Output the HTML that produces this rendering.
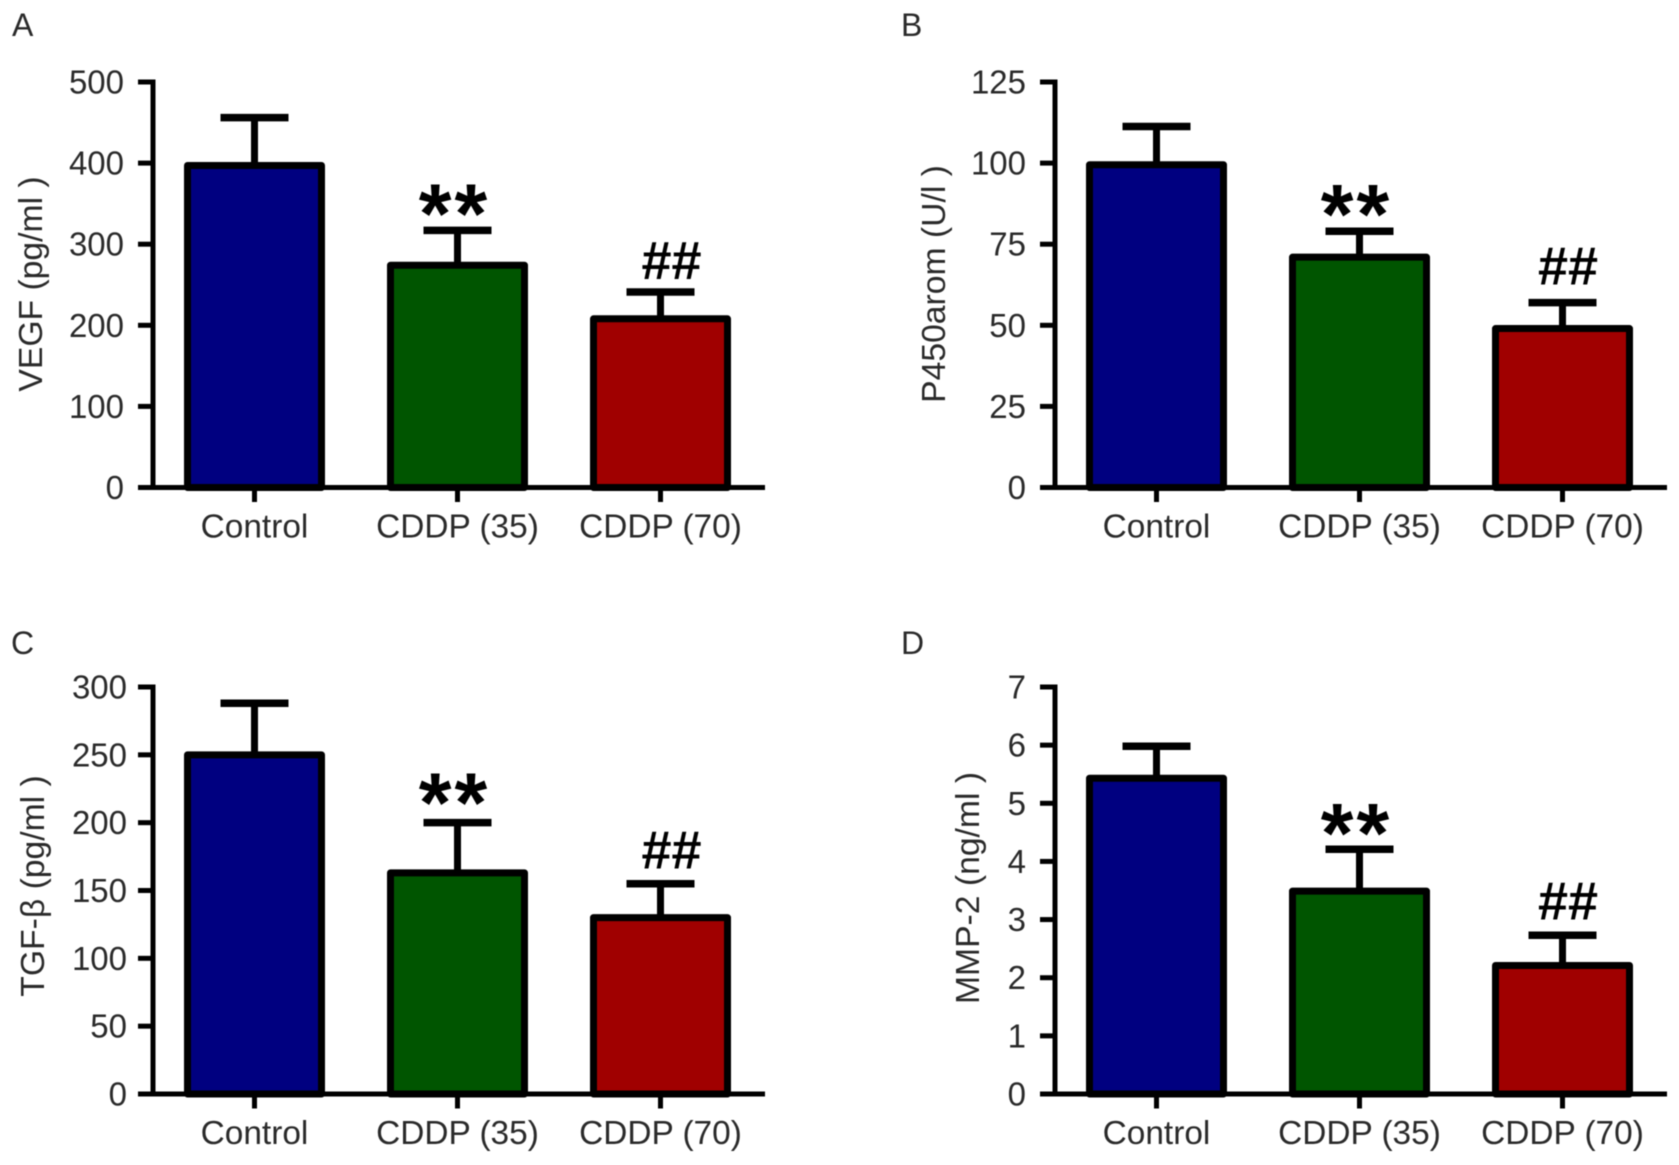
<!DOCTYPE html>
<html lang="en">
<head>
<meta charset="utf-8">
<title>Bar charts of VEGF, P450arom, TGF-β and MMP-2</title>
<style>
  html, body { margin: 0; padding: 0; background: #fff; }
  svg { display: block; filter: blur(0.5px); }
  text { font-family: "Liberation Sans", sans-serif; fill: #2a2a2a; }
</style>
</head>
<body>
<svg id="figure" xmlns="http://www.w3.org/2000/svg" width="1679" height="1165" viewBox="0 0 1679 1165"></svg>
<script>
const categories = ['Control', 'CDDP (35)', 'CDDP (70)'];
const barColors = ['#000080', '#005500', '#a00000'];
const sigMarks = ['', '**', '##'];

const vegfMeans = [397, 274, 208];
const vegfErrors = [59, 43, 33];
const vegfTicks = [0, 100, 200, 300, 400, 500];

const p450Means = [99.5, 71, 49];
const p450Errors = [11.8, 8, 8];
const p450Ticks = [0, 25, 50, 75, 100, 125];

const tgfMeans = [250, 163, 130];
const tgfErrors = [38, 37, 25];
const tgfTicks = [0, 50, 100, 150, 200, 250, 300];

const mmpMeans = [5.43, 3.49, 2.21];
const mmpErrors = [0.55, 0.72, 0.52];
const mmpTicks = [0, 1, 2, 3, 4, 5, 6, 7];

const SVG_NS = 'http://www.w3.org/2000/svg';
const svg = document.getElementById('figure');

function make(parent, tag, attrs, text) {
  const el = document.createElementNS(SVG_NS, tag);
  for (const k in attrs) el.setAttribute(k, attrs[k]);
  if (text !== undefined) el.textContent = text;
  parent.appendChild(el);
  return el;
}

function drawPanel(p) {
  const group = make(svg, 'g', {});
  
  

  const maxTick = p.ticks[p.ticks.length - 1];
  const y = v => p.bottom - (v / maxTick) * (p.bottom - p.top);
  const x = i => p.axisX + 101.5 + 203 * i;

  const letter = make(group, 'text', { x: p.letterX, y: p.letterY, 'font-size': 32 }, p.letter);
  
  

  const title = make(group, 'text', {
    transform: 'translate(' + p.titleX + ',' + p.titleY + ') rotate(-90)',
    'text-anchor': 'middle', 'font-size': 33.7
  }, p.title);
  
  

  // bars and error bars first, axes on top
  categories.forEach((cat, i) => {
    const cx = x(i);
    const topY = y(p.means[i]);
    const errY = y(p.means[i] + p.errors[i]);

    const stem = make(group, 'line', { x1: cx, x2: cx, y1: topY, y2: errY, stroke: '#000', 'stroke-width': 7 });
    
    

    const cap = make(group, 'line', { x1: cx - 34, x2: cx + 34, y1: errY, y2: errY, stroke: '#000', 'stroke-width': 7.5 });
    
    

    const bar = make(group, 'rect', {
      x: cx - 67, y: topY, width: 134, height: p.bottom - topY,
      fill: barColors[i], stroke: '#000', 'stroke-width': 7, 'stroke-linejoin': 'round'
    });
    
    

    if (sigMarks[i] === '**') {
      const stars = make(group, 'text', {
        x: cx - 3, y: errY + p.starDy, 'text-anchor': 'middle', 'font-size': 84, 'font-weight': 'bold',
        'letter-spacing': 3, style: 'fill:#000'
      }, sigMarks[i]);
      
      
    } else if (sigMarks[i] === '##') {
      const hashes = make(group, 'text', {
        x: cx + p.hashDx, y: errY + p.hashDy, 'text-anchor': 'middle', 'font-size': 54, 'font-weight': 'bold', style: 'fill:#000'
      }, sigMarks[i]);
      
      
    }

    const xTick = make(group, 'line', { x1: cx, x2: cx, y1: p.bottom, y2: p.bottom + 14.5, stroke: '#000', 'stroke-width': 5 });
    
    

    const xLabel = make(group, 'text', { x: cx, y: p.bottom + 50, 'text-anchor': 'middle', 'font-size': 33.4 }, cat);
    
    
  });

  const yAxis = make(group, 'line', { x1: p.axisX, x2: p.axisX, y1: p.top - 2.5, y2: p.bottom + 2.5, stroke: '#000', 'stroke-width': 5 });
  
  

  const xAxis = make(group, 'line', { x1: p.axisX, x2: p.axisX + 612, y1: p.bottom, y2: p.bottom, stroke: '#000', 'stroke-width': 5 });
  
  

  p.ticks.forEach(t => {
    const ty = y(t);
    const tick = make(group, 'line', { x1: p.axisX - 15, x2: p.axisX, y1: ty, y2: ty, stroke: '#000', 'stroke-width': 5 });
    
    

    const label = make(group, 'text', { x: p.axisX - p.labelGap, y: ty + 11.5, 'text-anchor': 'end', 'font-size': 33 }, String(t));
    
    
  });
}

drawPanel({ letter: 'A', letterX: 12, letterY: 36, title: 'VEGF (pg/ml )', titleX: 42, titleY: 284,
  axisX: 153, top: 82, bottom: 487.5, labelGap: 29, starDy: 12, hashDx: 11, hashDy: -13,
  means: vegfMeans, errors: vegfErrors, ticks: vegfTicks });
drawPanel({ letter: 'B', letterX: 901, letterY: 36, title: 'P450arom (U/l )', titleX: 945, titleY: 284,
  axisX: 1055, top: 82, bottom: 487.5, labelGap: 29, starDy: 12, hashDx: 5.5, hashDy: -18,
  means: p450Means, errors: p450Errors, ticks: p450Ticks });
drawPanel({ letter: 'C', letterX: 11, letterY: 654, title: 'TGF-β (pg/ml )', titleX: 44, titleY: 886,
  axisX: 153, top: 687, bottom: 1094, labelGap: 26, starDy: 9, hashDx: 11, hashDy: -15,
  means: tgfMeans, errors: tgfErrors, ticks: tgfTicks });
drawPanel({ letter: 'D', letterX: 901, letterY: 654, title: 'MMP-2 (ng/ml )', titleX: 979, titleY: 888,
  axisX: 1055, top: 687, bottom: 1094, labelGap: 29, starDy: 13, hashDx: 5.5, hashDy: -16,
  means: mmpMeans, errors: mmpErrors, ticks: mmpTicks });
</script>
</body>
</html>
